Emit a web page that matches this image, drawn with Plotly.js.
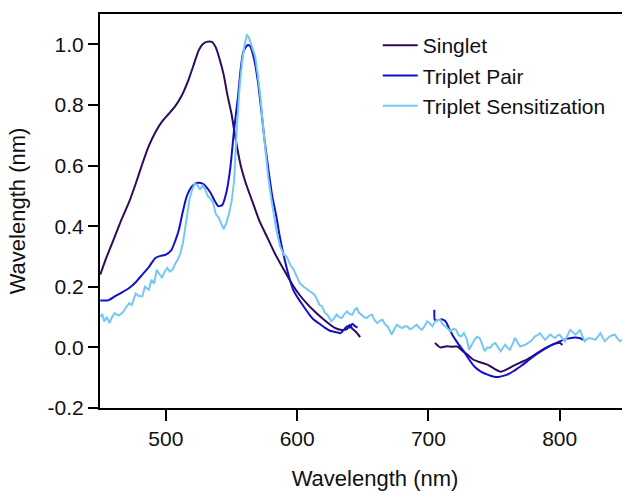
<!DOCTYPE html>
<html>
<head>
<meta charset="utf-8">
<script src="https://cdn.plot.ly/plotly-3.0.1.min.js"></script>
<style>
html,body{margin:0;padding:0;overflow:hidden;background:#fff;}
#chart{width:650px;height:491px;}
</style>
</head>
<body>
<div id="chart"></div>
<script>
const seriesNames = ["Singlet", "Triplet Pair", "Triplet Sensitization"];
const seriesColors = ["#2d0b5c", "#1111cc", "#76c8f2"];

const singletX = [450,455,461,466,472,477,482,487,492,497,502,507,512,517,521,525,528,531,535,538,541,544,547,550,553,557,561,566,571,577,583,590,596,602,608,613,618,623,628,633,638,640,642,645,648,
  null,
  705,709,714,718,722,726,730,734,740,745,750,755,760,765,770,775,780,785,790,795,800,802];
const singletY = [0.24,0.30,0.365,0.42,0.48,0.54,0.605,0.665,0.71,0.745,0.77,0.795,0.83,0.88,0.93,0.98,1.0,1.008,1.008,0.99,0.95,0.90,0.83,0.77,0.69,0.60,0.54,0.48,0.42,0.365,0.31,0.255,0.21,0.172,0.142,0.12,0.10,0.082,0.066,0.058,0.06,0.075,0.062,0.05,0.034,
  null,
  0.015,0.0,0.004,0.002,0.003,-0.012,-0.025,-0.04,-0.05,-0.057,-0.07,-0.08,-0.072,-0.06,-0.05,-0.04,-0.027,-0.013,0.0,0.01,0.015,0.008];

const tripletPairX = [450,456,461,466,472,477,482,487,492,496,500,504,507,510,513,516,520,524,528,531,534,537,540,543,546,549,552,555,557,559,562,564,567,570,573,575,578,581,584,587,591,594,597,601,605,609,613,617,621,625,630,633,636,638,640,642,644,646,
  null,
  704.5,705,708,710,713,716,719,723,727,731,735,740,745,750,753,757,760,765,770,775,780,785,790,795,800,805,810,815,818];
const tripletPairY = [0.155,0.155,0.168,0.18,0.196,0.215,0.24,0.265,0.295,0.302,0.306,0.32,0.35,0.39,0.45,0.50,0.532,0.543,0.54,0.528,0.51,0.485,0.466,0.47,0.51,0.59,0.72,0.83,0.92,0.975,0.997,0.995,0.955,0.88,0.77,0.69,0.59,0.50,0.435,0.36,0.28,0.23,0.19,0.16,0.135,0.11,0.09,0.078,0.065,0.055,0.05,0.047,0.06,0.07,0.065,0.078,0.07,0.065,
  null,
  0.124,0.09,0.09,0.093,0.086,0.06,0.036,0.01,-0.013,-0.04,-0.063,-0.08,-0.09,-0.097,-0.098,-0.094,-0.09,-0.078,-0.063,-0.047,-0.03,-0.015,-0.002,0.01,0.02,0.028,0.032,0.031,0.025];

const sensX = [450,451.5,453,455,457,459,461,464,467,470,472,474,477,479,482,484,487,489,491,493,495,497,499,501,503,505,507,509,511,513,516,518,520,522,524,526,528,530,532,534,536,538,540,542,544,546,548,550,552,554,556,558,560,561.7,563,565,568,570,572,574,576,578,580,582,584,587,590,592,595,597,600,602,605,608,611,613,615,617,619,621,623,626,628,630,632,634,636,638,640,642,644,645.5,647,649,651,653,655,657,659,661,663,665,667,669,671,672,674,676,678,680,682,684,686,688,690,691,693,695,697,699,701,703,705,707,709,711,713,715,717,719,721,723,725,727,729,731,733,735,737,739,741,743,745,747,749,751,753,755,757,758.5,760,762,764,766,768,770,772,774,776,778,780,781,783,785,787,789,791,793,795,796.5,798,800,802,804,806,808,810,812,814,815.5,817,819,821,823,825,827,829,831,833,834.5,836,838,840,842,844,846,848,850,852];
const sensY = [0.10,0.11,0.085,0.10,0.08,0.10,0.113,0.105,0.115,0.135,0.146,0.14,0.178,0.17,0.168,0.20,0.19,0.223,0.21,0.256,0.24,0.229,0.25,0.262,0.25,0.256,0.275,0.29,0.31,0.345,0.43,0.49,0.52,0.54,0.536,0.52,0.536,0.52,0.498,0.49,0.476,0.44,0.43,0.41,0.39,0.41,0.44,0.48,0.55,0.72,0.85,0.94,1.0,1.03,1.025,1.0,0.96,0.9,0.827,0.73,0.64,0.56,0.5,0.44,0.39,0.333,0.305,0.30,0.27,0.26,0.23,0.212,0.2,0.19,0.18,0.175,0.16,0.14,0.135,0.115,0.108,0.086,0.095,0.108,0.10,0.097,0.11,0.119,0.11,0.108,0.125,0.13,0.115,0.108,0.10,0.097,0.105,0.108,0.09,0.08,0.088,0.091,0.075,0.069,0.05,0.042,0.06,0.075,0.068,0.064,0.07,0.069,0.06,0.064,0.072,0.075,0.065,0.058,0.07,0.086,0.08,0.07,0.085,0.09,0.09,0.075,0.069,0.06,0.053,0.062,0.058,0.04,0.036,0.047,0.03,-0.008,0.01,0.025,0.035,0.031,0.01,-0.013,0.0,-0.002,0.01,0.014,0.0,-0.013,0.0,0.009,0.0,-0.008,0.01,0.031,0.015,0.003,0.006,0.009,0.015,0.02,0.03,0.036,0.04,0.047,0.035,0.025,0.035,0.042,0.035,0.031,0.038,0.042,0.03,0.02,0.04,0.058,0.05,0.042,0.05,0.058,0.04,0.02,0.028,0.031,0.028,0.025,0.035,0.047,0.03,0.02,0.028,0.036,0.04,0.042,0.03,0.02,0.025,0.03,0.025];

const xTickVals = [500, 600, 700, 800];
const yTickVals = [-0.2, 0.0, 0.2, 0.4, 0.6, 0.8, 1.0];
const yTickText = ["-0.2", "0.0", "0.2", "0.4", "0.6", "0.8", "1.0"];

const xs = [singletX, tripletPairX, sensX];
const ys = [singletY, tripletPairY, sensY];
const shapes = ["spline", "spline", "linear"];
const traces = seriesNames.map((n, i) => ({
  x: xs[i], y: ys[i], name: n, type: "scatter", mode: "lines",
  line: {color: seriesColors[i], width: 2, shape: shapes[i], smoothing: 0.6}, connectgaps: false
}));

const fontFam = "Liberation Sans, Arial, Helvetica, sans-serif";
const layout = {
  width: 650, height: 491,
  margin: {l: 100, r: 0, t: 14, b: 83},
  paper_bgcolor: "#fff", plot_bgcolor: "#fff",
  font: {family: fontFam, size: 21, color: "#111"},
  showlegend: true,
  legend: {x: 0.505, y: 0.972, xanchor: "left", yanchor: "top",
    bgcolor: "rgba(0,0,0,0)", font: {family: fontFam, size: 21, color: "#111"},
    tracegroupgap: 0, itemwidth: 35},
  xaxis: {
    range: [449.8, 868.8], showgrid: false, zeroline: false,
    showline: true, linecolor: "#000", linewidth: 2, mirror: true,
    ticks: "outside", ticklen: 11, tickwidth: 2, tickcolor: "#000",
    tickvals: xTickVals, tickfont: {size: 21},
    title: {text: "Wavelength (nm)", font: {size: 22}, standoff: 22}
  },
  yaxis: {
    range: [-0.2, 1.1], showgrid: false, zeroline: false,
    showline: true, linecolor: "#000", linewidth: 2, mirror: true,
    ticks: "outside", ticklen: 10, tickwidth: 2, tickcolor: "#000",
    tickvals: yTickVals, ticktext: yTickText, tickfont: {size: 21},
    title: {text: "Wavelength (nm)", font: {size: 22}, standoff: 16}
  }
};

Plotly.newPlot("chart", traces, layout, {displayModeBar: false, staticPlot: true});
</script>
</body>
</html>
